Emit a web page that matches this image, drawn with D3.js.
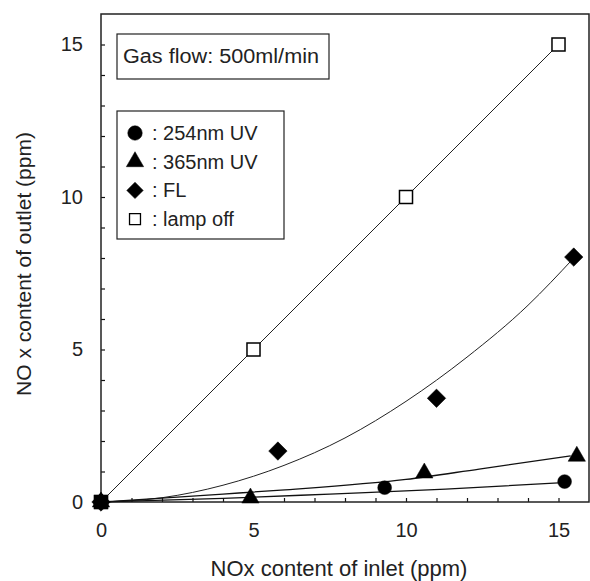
<!DOCTYPE html>
<html>
<head>
<meta charset="utf-8">
<script src="https://cdn.jsdelivr.net/npm/d3@7"></script>
<style>
  body { margin: 0; background: #fff; }
  svg { display: block; font-family: "Liberation Sans", Arial, sans-serif; }
</style>
</head>
<body>
<div id="chart"></div>
<script>
// measured points (inlet ppm -> outlet ppm)
const uv254X = [0, 9.3, 15.2];
const uv254Y = [0, 0.47, 0.67];
const uv365X = [0, 4.9, 10.6, 15.6];
const uv365Y = [0, 0.13, 0.95, 1.5];
const flX = [0, 5.8, 11.0, 15.5];
const flY = [0, 1.67, 3.4, 8.03];
const offX = [0, 5, 10, 15];
const offY = [0, 5, 10, 15];

// fitted lines
const fitOffX = [0, 15];
const fitOffY = [0, 15];
const fitFlX = [0, 2, 4, 6, 8, 10, 12, 14, 15.5];
const fitFlY = [0, 0.14, 0.55, 1.2, 2.1, 3.3, 4.75, 6.45, 8.0];
const fit365X = [0, 4, 5.9, 10, 12.4, 15.4];
const fit365Y = [0, 0.26, 0.39, 0.74, 1.08, 1.51];
const fit254X = [0, 4, 7.5, 11.3, 15];
const fit254Y = [0, 0.12, 0.26, 0.42, 0.63];

const tickLabels = [0, 5, 10, 15];
const legendLabels = ["254nm UV", "365nm UV", "FL", "lamp off"];
const noteText = "Gas flow: 500ml/min";
const xTitle = "NOx content of inlet (ppm)";
const yTitle = "NO x content of outlet (ppm)";

const W = 590, H = 581;
const mLeft = 101, mTop = 14, pw = 488, ph = 488;

const svg = d3.select("#chart").append("svg")
    .attr("width", W).attr("height", H);

const x = d3.scaleLinear().domain([0, 16]).range([mLeft, mLeft + pw]);
const y = d3.scaleLinear().domain([0, 16]).range([mTop + ph, mTop]);

// axes with inward ticks every 1 ppm, labels every 5
const fmt = d => tickLabels.includes(d) ? d : "";
const xAxis = svg.append("g")
    .attr("transform", `translate(0,${mTop + ph})`)
    .call(d3.axisBottom(x).tickValues(d3.range(0, 16)).tickSize(-4).tickPadding(21).tickFormat(fmt));
const yAxis = svg.append("g")
    .attr("transform", `translate(${mLeft},0)`)
    .call(d3.axisLeft(y).tickValues(d3.range(0, 16)).tickSize(-4).tickPadding(18).tickFormat(fmt));
[xAxis, yAxis].forEach(a => {
  a.select(".domain").remove();
  a.selectAll("line").attr("stroke", "#111").attr("stroke-width", 1.2);
  a.selectAll("text").attr("font-size", 20).attr("fill", "#222")
    .attr("font-family", "'Liberation Sans', Arial, sans-serif");
});

// frame
svg.append("rect")
    .attr("x", mLeft).attr("y", mTop).attr("width", pw).attr("height", ph)
    .attr("fill", "none").attr("stroke", "#222").attr("stroke-width", 1.5);

// fit lines
const lineGen = d3.line().x(d => x(d[0])).y(d => y(d[1]));
const curveGen = d3.line().x(d => x(d[0])).y(d => y(d[1])).curve(d3.curveMonotoneX);
const zip = (a, b) => a.map((v, i) => [v, b[i]]);

svg.append("path").datum(zip(fitOffX, fitOffY)).attr("d", lineGen)
    .attr("fill", "none").attr("stroke", "#222").attr("stroke-width", 1);
svg.append("path").datum(zip(fitFlX, fitFlY)).attr("d", curveGen)
    .attr("fill", "none").attr("stroke", "#222").attr("stroke-width", 1);
svg.append("path").datum(zip(fit365X, fit365Y)).attr("d", curveGen)
    .attr("fill", "none").attr("stroke", "#111").attr("stroke-width", 1.3);
svg.append("path").datum(zip(fit254X, fit254Y)).attr("d", curveGen)
    .attr("fill", "none").attr("stroke", "#111").attr("stroke-width", 1.3);

// markers
const circleSym = d3.symbol().type(d3.symbolCircle).size(150);
const triSym = d3.symbol().type(d3.symbolTriangle).size(130);
const diaSym = d3.symbol().type(d3.symbolSquare).size(170);
const sqSym = d3.symbol().type(d3.symbolSquare).size(170);

function drawPoints(xs, ys, sym, rot, fill) {
  svg.append("g").selectAll("path")
    .data(zip(xs, ys))
    .join("path")
    .attr("d", sym)
    .attr("transform", d => `translate(${x(d[0])},${y(d[1])}) rotate(${rot})`)
    .attr("fill", fill)
    .attr("stroke", "#000")
    .attr("stroke-width", fill === "#fff" ? 1.5 : 0.5);
}
drawPoints(offX, offY, sqSym, 0, "#fff");
drawPoints(flX, flY, diaSym, 45, "#000");
drawPoints(uv365X, uv365Y, triSym, 0, "#000");
drawPoints(uv254X, uv254Y, circleSym, 0, "#000");
// the overlapping markers at the origin read as one solid black square
svg.append("path")
    .attr("d", d3.symbol().type(d3.symbolSquare).size(200)())
    .attr("transform", `translate(${x(offX[0])},${y(offY[0])})`)
    .attr("fill", "#000");

// note box
svg.append("rect").attr("x", 117).attr("y", 34).attr("width", 212).attr("height", 45)
    .attr("fill", "#fff").attr("stroke", "#222").attr("stroke-width", 1.2);
svg.append("text").attr("x", 123).attr("y", 63).attr("font-size", 20).attr("fill", "#222")
    .attr("textLength", 196).attr("lengthAdjust", "spacingAndGlyphs")
    .text(noteText);

// legend
svg.append("rect").attr("x", 117).attr("y", 111).attr("width", 167).attr("height", 128)
    .attr("fill", "#fff").attr("stroke", "#222").attr("stroke-width", 1.2);
const legSyms = [
  { sym: d3.symbol().type(d3.symbolCircle).size(165), rot: 0, fill: "#000" },
  { sym: d3.symbol().type(d3.symbolTriangle).size(130), rot: 0, fill: "#000" },
  { sym: d3.symbol().type(d3.symbolSquare).size(135), rot: 45, fill: "#000" },
  { sym: d3.symbol().type(d3.symbolSquare).size(120), rot: 0, fill: "#fff" }
];
const leg = svg.append("g").selectAll("g")
    .data(legendLabels)
    .join("g")
    .attr("transform", (d, i) => `translate(0,${133 + i * 28.7})`);
leg.append("path")
    .attr("d", (d, i) => legSyms[i].sym())
    .attr("transform", (d, i) => `translate(135,0) rotate(${legSyms[i].rot})`)
    .attr("fill", (d, i) => legSyms[i].fill)
    .attr("stroke", "#000")
    .attr("stroke-width", (d, i) => legSyms[i].fill === "#fff" ? 1.3 : 0.5);
leg.append("text")
    .attr("x", 152).attr("y", 7)
    .attr("font-size", 20).attr("fill", "#222")
    .text(d => ": " + d);

// axis titles
svg.append("text")
    .attr("x", 339).attr("y", 576)
    .attr("text-anchor", "middle").attr("font-size", 22).attr("fill", "#222")
    .text(xTitle);
svg.append("text")
    .attr("transform", "translate(31,264) rotate(-90)")
    .attr("text-anchor", "middle").attr("font-size", 21).attr("fill", "#222")
    .text(yTitle);
</script>
</body>
</html>
